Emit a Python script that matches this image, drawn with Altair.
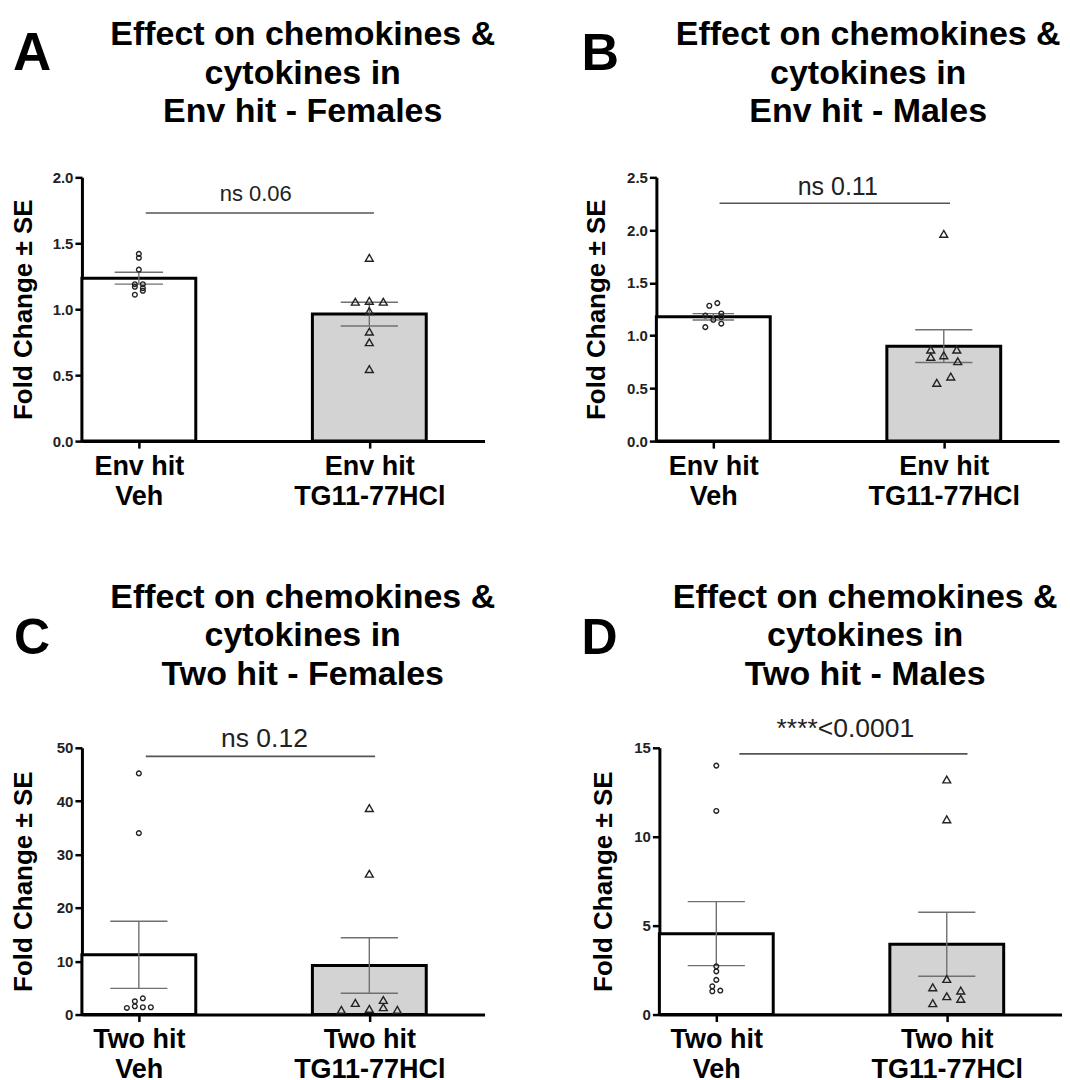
import json
import altair as alt
import pandas as pd

FONT = "Liberation Sans"

# ---------------- data ----------------
y_title = "Fold Change \u00b1 SE"

# Panel A: Env hit - Females
A_title = ["Effect on chemokines &", "cytokines in", "Env hit - Females"]
A_labels = [["Env hit", "Veh"], ["Env hit", "TG11-77HCl"]]
A_means = [1.235, 0.963]
A_ses = [0.045, 0.09]
A_veh = [1.42, 1.39, 1.30, 1.19, 1.17, 1.11, 1.19, 1.16, 1.14]
A_veh_jit = [0, 0, 0, -4, -4, -4, 4, 4, 4]
A_tg = [1.39, 1.057, 1.064, 1.057, 0.986, 0.83, 0.75, 0.546]
A_tg_jit = [0, -14, 0, 14, 0, 0, 0, 0]
A_ann = "ns 0.06"

# Panel B: Env hit - Males
B_title = ["Effect on chemokines &", "cytokines in", "Env hit - Males"]
B_labels = [["Env hit", "Veh"], ["Env hit", "TG11-77HCl"]]
B_means = [1.178, 0.90]
B_ses = [0.03, 0.155]
B_veh = [1.283, 1.308, 1.19, 1.15, 1.21, 1.176, 1.113, 1.08]
B_veh_jit = [-4, 4, -8, 0, 8, 8, 8, -8]
B_tg = [1.964, 0.867, 0.867, 0.798, 0.813, 0.757, 0.612, 0.552]
B_tg_jit = [0, -13, 13, -13, 0, 14, 7, -7]
B_ann = "ns 0.11"

# Panel C: Two hit - Females
C_title = ["Effect on chemokines &", "cytokines in", "Two hit - Females"]
C_labels = [["Two hit", "Veh"], ["Two hit", "TG11-77HCl"]]
C_means = [11.2, 9.2]
C_ses = [6.3, 5.2]
C_veh = [45.2, 34.0, 1.24, 2.49, 3.05, 1.55, 1.37, 1.37]
C_veh_jit = [0, 0, -12, -4, 4, -4, 4, 12]
C_tg = [38.7, 26.4, 0.87, 2.18, 1.06, 2.74, 1.37, 0.87]
C_tg_jit = [0, 0, -28, -14, 0, 14, 14, 28]
C_ann = "ns 0.12"

# Panel D: Two hit - Males
D_title = ["Effect on chemokines &", "cytokines in", "Two hit - Males"]
D_labels = [["Two hit", "Veh"], ["Two hit", "TG11-77HCl"]]
D_means = [4.55, 3.95]
D_ses = [1.8, 1.8]
D_veh = [14.0, 11.45, 2.71, 2.43, 1.95, 1.59, 1.31, 1.35]
D_veh_jit = [0, 0, 0, 0, 0, -4, -4, 4]
D_tg = [13.22, 10.98, 2.0, 1.53, 1.35, 1.03, 0.88, 0.64]
D_tg_jit = [0, 0, 0, -14, 14, 0, 14, -14]
D_ann = "****<0.0001"

# ---------------- styling ----------------
W = 403
PX_PER_UNIT = 0.572 * W  # distance between the two group centres
X_DOMAIN = [-0.247, 1.50]
BAR_HALF = 0.247
BAR_FILLS = ["white", "#d3d3d3"]


def panel(letter, title, labels, means, ses, veh, veh_jit, tg, tg_jit,
          ann, ann_size, ann_text_y, ann_line_y, line_x, text_x, ymax, ystep, fmt,
          height, caps, title_cx, title_top, letter_x, letter_y, letter_size,
          ytitle_x):
    xs = alt.Scale(domain=X_DOMAIN, nice=False, zero=False)
    ys = alt.Scale(domain=[0, ymax], nice=False)

    bars = pd.DataFrame({"idx": [0, 1], "mean": means, "fill": BAR_FILLS})

    err_rows = []
    for i, (m, s, c) in enumerate(zip(means, ses, caps)):
        err_rows.append({"x": i, "x2": i, "y": m - s, "y2": m + s})
        err_rows.append({"x": i - c, "x2": i + c, "y": m + s, "y2": m + s})
        err_rows.append({"x": i - c, "x2": i + c, "y": m - s, "y2": m - s})
    err = pd.DataFrame(err_rows)

    pts = pd.DataFrame({
        "idx": [0] * len(veh) + [1] * len(tg),
        "value": veh + tg,
        "jit": veh_jit + tg_jit,
        "shape": ["circle"] * len(veh) + ["triangle-up"] * len(tg),
    })

    label_expr = f"datum.value == 0 ? {json.dumps(labels[0])} : {json.dumps(labels[1])}"

    x_axis = alt.Axis(values=[0, 1], labelExpr=label_expr, title=None,
                      labelFont=FONT, labelFontSize=27, labelFontWeight="bold",
                      labelColor="black", labelLineHeight=30, labelPadding=5,
                      labelFlush=False, labelOverlap=False, labelAngle=0,
                      domainColor="black", domainWidth=3, tickColor="black",
                      tickWidth=2.5, tickSize=7, grid=False)
    y_axis = alt.Axis(values=[round(v * ystep, 4) for v in range(int(round(ymax / ystep)) + 1)],
                      format=fmt, title=y_title, titleFont=FONT, titleFontSize=26,
                      titleFontWeight="bold", titleColor="black",
                      titleX=ytitle_x, titleY=height / 2, titleAngle=270,
                      titleAlign="center", titleBaseline="middle",
                      labelFont=FONT, labelFontSize=15, labelFontWeight="bold",
                      labelColor="#222", labelPadding=2, domainColor="black",
                      domainWidth=3, tickColor="black", tickWidth=2.5, tickSize=7,
                      grid=False)

    bar_layer = alt.Chart(bars).transform_calculate(
        x0=f"datum.idx - {BAR_HALF}", x1=f"datum.idx + {BAR_HALF}", zero="0"
    ).mark_rect(stroke="black", strokeWidth=3).encode(
        x=alt.X("x0:Q", scale=xs, axis=x_axis),
        x2="x1:Q",
        y=alt.Y("zero:Q", scale=ys, axis=y_axis),
        y2="mean:Q",
        fill=alt.Fill("fill:N", scale=None),
    )

    err_layer = alt.Chart(err).mark_rule(color="#707070", strokeWidth=1.4).encode(
        x=alt.X("x:Q", scale=xs), x2="x2:Q",
        y=alt.Y("y:Q", scale=ys), y2="y2:Q",
    )

    pt_layer = alt.Chart(pts).transform_calculate(
        xp=f"datum.idx + datum.jit / {PX_PER_UNIT}"
    ).mark_point(filled=False, color="#222", strokeWidth=1.4, opacity=1).encode(
        x=alt.X("xp:Q", scale=xs),
        y=alt.Y("value:Q", scale=ys),
        shape=alt.Shape("shape:N", scale=None),
        size=alt.Size("shape:N", scale=alt.Scale(domain=["circle", "triangle-up"], range=[22, 62]), legend=None),
    )

    ann_line = alt.Chart(pd.DataFrame({"x": [line_x[0]], "x2": [line_x[1]], "y": [ann_line_y]})).mark_rule(
        color="#555", strokeWidth=1.6
    ).encode(x=alt.X("x:Q", scale=xs), x2="x2:Q", y=alt.Y("y:Q", scale=ys))

    ann_text = alt.Chart(pd.DataFrame({"x": [text_x], "y": [ann_text_y], "t": [ann]})).mark_text(
        font=FONT, fontSize=ann_size, color="#222", baseline="middle", align="center"
    ).encode(x=alt.X("x:Q", scale=xs), y=alt.Y("y:Q", scale=ys), text="t:N")

    title_layer = alt.Chart(pd.DataFrame({"t": ["\n".join(title)]})).mark_text(
        font=FONT, fontSize=34, fontWeight="bold", color="black", align="center",
        baseline="top", lineBreak="\n", lineHeight=38.5
    ).encode(x=alt.value(title_cx), y=alt.value(title_top), text="t:N")

    letter_layer = alt.Chart(pd.DataFrame({"t": [letter]})).mark_text(
        font=FONT, fontSize=letter_size, fontWeight="bold", color="black", align="left", baseline="middle"
    ).encode(x=alt.value(letter_x), y=alt.value(letter_y), text="t:N")

    return alt.layer(bar_layer, err_layer, pt_layer, ann_line, ann_text,
                     title_layer, letter_layer).properties(width=W, height=height)


pA = panel("A", A_title, A_labels, A_means, A_ses, A_veh, A_veh_jit, A_tg, A_tg_jit,
           A_ann, 22, 1.874, 1.73, [0.03, 1.02], 0.507, 2.0, 0.5, ".1f", 264, [0.105, 0.124],
           221, -159, -69, -123, 53, -58)
pB = panel("B", B_title, B_labels, B_means, B_ses, B_veh, B_veh_jit, B_tg, B_tg_jit,
           B_ann, 25, 2.41, 2.254, [0.027, 1.027], 0.54, 2.5, 0.5, ".1f", 264, [0.09, 0.124],
           212, -159, -75, -123, 52, -60)
pC = panel("C", C_title, C_labels, C_means, C_ses, C_veh, C_veh_jit, C_tg, C_tg_jit,
           C_ann, 26.5, 51.6, 48.4, [0.03, 1.025], 0.545, 50, 10, "d", 267, [0.124, 0.124],
           221, -167, -68, -109, 50, -58)
pD = panel("D", D_title, D_labels, D_means, D_ses, D_veh, D_veh_jit, D_tg, D_tg_jit,
           D_ann, 26.5, 16.03, 14.66, [0.10, 1.09], 0.56, 15, 5, "d", 267, [0.124, 0.124],
           206, -167, -78, -109, 50, -56)

chart = alt.vconcat(
    alt.hconcat(pA, pB, spacing=86),
    alt.hconcat(pC, pD, spacing=86),
    spacing=72,
).properties(
    background="white",
    padding={"left": 2, "top": 10, "right": 0, "bottom": 0},
).configure_view(stroke=None)

chart.save("out.html", embed_options={"renderer": "svg", "actions": False})
